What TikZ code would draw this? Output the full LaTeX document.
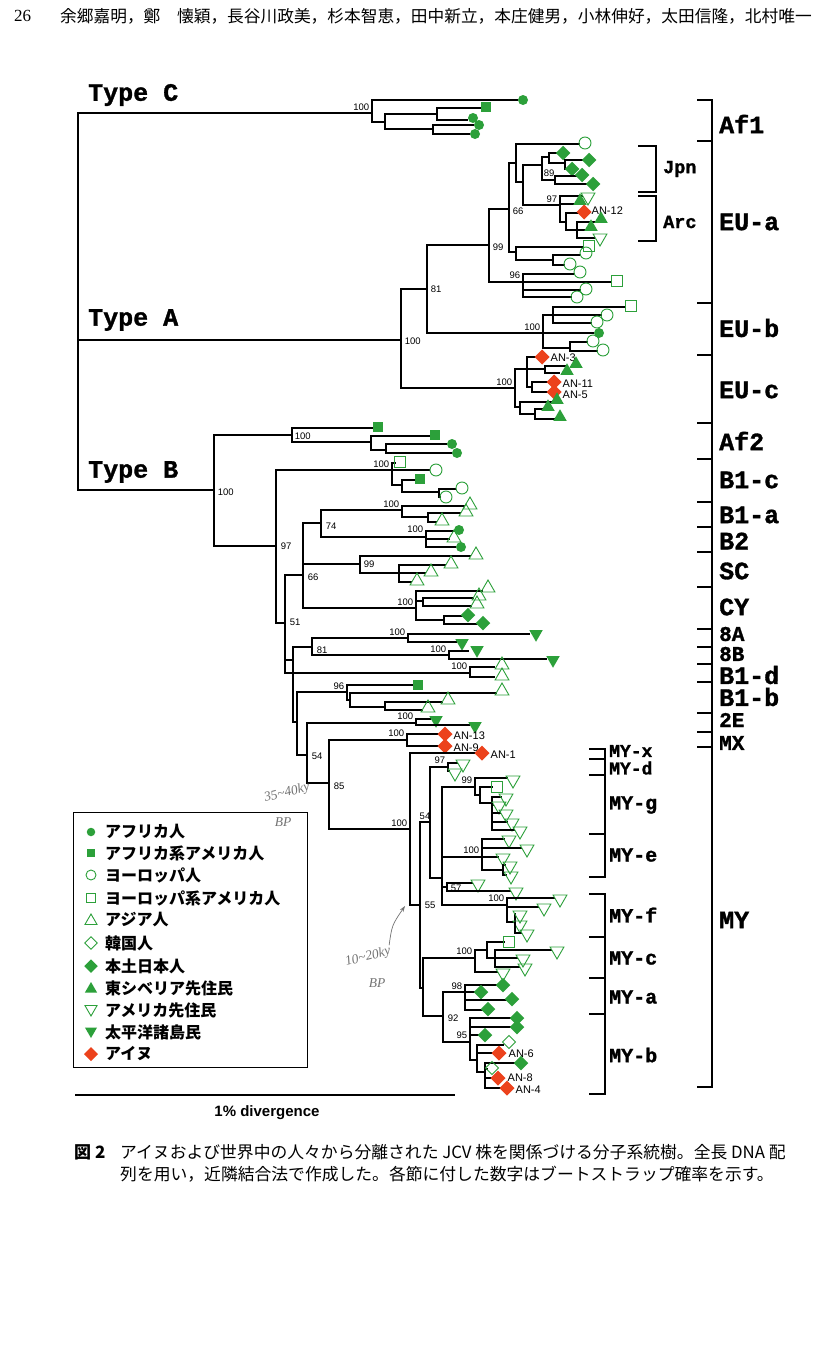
\documentclass[tikz,border=0pt]{standalone}
\usepackage{fontspec}
\setmainfont{Liberation Sans}
\newfontfamily\jpf{Noto Sans CJK JP}
\newfontfamily\courf[BoldFeatures={FakeBold=1.3}]{Liberation Mono}
\newfontfamily\serf{Liberation Serif}
\usetikzlibrary{shapes.geometric,arrows.meta}
\definecolor{grn}{RGB}{44,160,58}
\definecolor{anred}{RGB}{236,66,28}
\newcommand\nd[3]{\coordinate (#1) at (#2,#3);}
\newcommand\lnk[2]{\draw[br] (#1) |- (#2);}
\newcommand\tipm[6]{\draw[br] (#1) |- (#2,#3); \node[#4] at (#5,#6) {};}
\newcommand\bsl[4]{\node[bs,anchor=#1] at (#2,#3) {#4};}
\newcommand\anl[3]{\node[anlab] at (#1,#2) {#3};}
\tikzset{
 br/.style={line width=1.4pt},
 brk/.style={line width=1.5pt},
 mk/.style={inner sep=0pt, outer sep=0pt},
 fc/.style={mk,circle,fill=grn,minimum size=10pt},
 fs/.style={mk,rectangle,fill=grn,minimum size=9.5pt},
 oc/.style={mk,circle,draw=grn,line width=0.9pt,minimum size=12pt},
 os/.style={mk,rectangle,draw=grn,line width=0.9pt,minimum size=10.5pt},
 ot/.style={mk,regular polygon,regular polygon sides=3,draw=grn,line width=0.9pt,minimum size=16pt},
 ft/.style={mk,regular polygon,regular polygon sides=3,fill=grn,minimum size=15.5pt},
 oi/.style={ot,shape border rotate=180},
 fi/.style={ft,shape border rotate=180},
 fd/.style={mk,diamond,fill=grn,minimum size=14.5pt},
 od/.style={mk,diamond,draw=grn,line width=0.9pt,minimum size=13pt},
 rdd/.style={mk,diamond,fill=anred,minimum size=15pt},
 bs/.style={font=\fontsize{9.5}{10}\selectfont, inner sep=0.6pt},
 anlab/.style={font=\fontsize{11}{12}\selectfont, inner sep=0.5pt, anchor=west},
 big/.style={font=\courf\bfseries\fontsize{25}{25}\selectfont, anchor=west, inner sep=0pt},
 bigs/.style={font=\courf\bfseries\fontsize{21}{21}\selectfont, anchor=west, inner sep=0pt},
 mid/.style={font=\courf\bfseries\fontsize{20}{20}\selectfont, anchor=west, inner sep=0pt},
 mids/.style={font=\courf\bfseries\fontsize{18}{18}\selectfont, anchor=west, inner sep=0pt},
 sml/.style={font=\courf\bfseries\fontsize{18.5}{18.5}\selectfont, anchor=west, inner sep=0pt},
 lg/.style={font=\jpf\bfseries\fontsize{16}{17}\selectfont, anchor=west, inner sep=0pt},
 hw/.style={text=black!55, font=\serf\itshape\fontsize{13.5}{13.5}\selectfont, inner sep=0pt},
}
\begin{document}
\begin{tikzpicture}[x=1pt,y=-1pt]
\fill[white] (0,0) rectangle (826,1346);
\useasboundingbox (0,0) rectangle (826,1346);
% header
\node[anchor=west, font=\serf\fontsize{17}{17}\selectfont, inner sep=0pt] (pg) at (14,16) {26};
\node[anchor=west, font=\jpf\fontsize{16.7}{17}\selectfont, inner sep=0pt] (auth) at (60,16) {余郷嘉明，鄭　懐穎，長谷川政美，杉本智恵，田中新立，本庄健男，小林伸好，太田信隆，北村唯一};
% type labels
\node[big] (tc) at (88,95) {Type C};
\node[big] (ta) at (88,320) {Type A};
\node[big] (tb) at (88,472) {Type B};
% root
\nd{R}{78}{340}
% ---------- Type C
\nd{c0}{372}{113}\nd{c1}{385}{122}\nd{c2}{437}{114}\nd{c3}{433}{129}
\lnk{R}{c0}
\tipm{c0}{518}{100}{fc}{523}{100}
\lnk{c0}{c1}\lnk{c1}{c2}\lnk{c1}{c3}
\tipm{c2}{481}{108}{fs}{486}{107}
\tipm{c2}{468}{120}{fc}{473}{118}
\tipm{c3}{474}{125}{fc}{479}{125}
\tipm{c3}{470}{134}{fc}{475}{134}
\bsl{south east}{370}{111}{100}
% ---------- Type A
\nd{A}{401}{340}\lnk{R}{A}\bsl{west}{404}{341}{100}
\nd{a81}{427}{289}\lnk{A}{a81}\bsl{west}{430}{289}{81}
\nd{a99}{489}{245}\lnk{a81}{a99}\bsl{west}{492}{247}{99}
\nd{a66}{509}{209}\lnk{a99}{a66}\bsl{west}{512}{211}{66}
\nd{a66a}{516}{163}\lnk{a66}{a66a}
\tipm{a66a}{580}{144}{oc}{585}{143}
\nd{jp}{523}{182}\lnk{a66a}{jp}
\nd{n89}{542}{165}\lnk{jp}{n89}\bsl{west}{543}{173}{89}
\nd{j1}{549}{157}\lnk{n89}{j1}
\tipm{j1}{558}{153}{fd}{563}{153}
\nd{j1b}{565}{163}\lnk{j1}{j1b}
\tipm{j1b}{584}{160}{fd}{589}{160}
\tipm{j1b}{567}{169}{fd}{572}{169}
\nd{j2}{555}{180}\lnk{n89}{j2}
\tipm{j2}{577}{176}{fd}{582}{175}
\tipm{j2}{588}{184}{fd}{593}{184}
\nd{n97a}{560}{205}\lnk{jp}{n97a}\bsl{south east}{558}{203}{97}
\tipm{n97a}{583}{196}{oi}{588}{197}
\tipm{n97a}{575}{204}{ft}{580}{201}
\nd{ar1}{566}{222}\lnk{n97a}{ar1}
\tipm{ar1}{579}{213}{rdd}{584}{212}\anl{591}{211}{AN-12}
\nd{ar2}{577}{230}\lnk{ar1}{ar2}
\tipm{ar2}{596}{222}{ft}{601}{219}
\tipm{ar2}{586}{230}{ft}{591}{227}
\tipm{ar2}{595}{238}{oi}{600}{238}
\nd{a66b}{516}{252}\lnk{a66}{a66b}
\tipm{a66b}{584}{247}{os}{589}{246}
\nd{a66c}{553}{260}\lnk{a66b}{a66c}
\tipm{a66c}{581}{255}{oc}{586}{253}
\tipm{a66c}{565}{265}{oc}{570}{264}
\nd{a96}{523}{282}\lnk{a99}{a96}\bsl{east}{521}{275}{96}
\tipm{a96}{575}{274}{oc}{580}{272}
\tipm{a96}{612}{282}{os}{617}{281}
\tipm{a96}{581}{290}{oc}{586}{289}
\tipm{a96}{572}{297}{oc}{577}{297}
\nd{eb}{543}{333}\lnk{a81}{eb}\bsl{south east}{541}{331}{100}
\nd{eb1}{553}{315}\lnk{eb}{eb1}
\tipm{eb1}{626}{307}{os}{631}{306}
\tipm{eb1}{602}{315}{oc}{607}{315}
\tipm{eb1}{592}{323}{oc}{597}{322}
\tipm{eb}{594}{333}{fc}{599}{333}
\nd{eb2}{570}{348}\lnk{eb}{eb2}
\tipm{eb2}{588}{342}{oc}{593}{341}
\tipm{eb2}{598}{351}{oc}{603}{350}
\nd{ec}{515}{388}\lnk{A}{ec}\bsl{south east}{513}{386}{100}
\nd{eca}{527}{369}\lnk{ec}{eca}
\tipm{eca}{537}{357}{rdd}{542}{357}\anl{550}{358}{AN-3}
\nd{eca2}{545}{369}\lnk{eca}{eca2}
\tipm{eca2}{566}{366}{ft}{576}{364}
\tipm{eca2}{560}{373}{ft}{567}{371}
\nd{eca3}{532}{387}\lnk{eca}{eca3}
\tipm{eca3}{549}{382}{rdd}{554}{382}\anl{562}{384}{AN-11}
\tipm{eca3}{549}{392}{rdd}{554}{392}\anl{562}{395}{AN-5}
\nd{ecb}{520}{407}\lnk{ec}{ecb}
\tipm{ecb}{552}{402}{ft}{557}{400}
\nd{ecb2}{535}{414}\lnk{ecb}{ecb2}
\tipm{ecb2}{543}{409}{ft}{548}{407}
\tipm{ecb2}{555}{419}{ft}{560}{417}
% ---------- Type B
\nd{B}{214}{490}\lnk{R}{B}\bsl{west}{217}{492}{100}
\nd{af2}{292}{435}\lnk{B}{af2}\bsl{west}{294}{436}{100}
\tipm{af2}{373}{428}{fs}{378}{427}
\nd{f1}{371}{442}\lnk{af2}{f1}
\tipm{f1}{430}{436}{fs}{435}{435}
\nd{f2}{386}{450}\lnk{f1}{f2}
\tipm{f2}{447}{444}{fc}{452}{444}
\tipm{f2}{452}{453}{fc}{457}{453}
\nd{b97}{276}{546}\lnk{B}{b97}\bsl{west}{280}{546}{97}
\nd{b1c}{392}{470}\lnk{b97}{b1c}\bsl{south east}{390}{468}{100}
\tipm{b1c}{396}{463}{os}{400}{462}
\tipm{b1c}{430}{470}{oc}{436}{470}
\nd{b1c1}{402}{485}\lnk{b1c}{b1c1}
\tipm{b1c1}{415}{480}{fs}{420}{479}
\nd{b1c2}{439}{492}\lnk{b1c1}{b1c2}
\tipm{b1c2}{456}{489}{oc}{462}{488}
\tipm{b1c2}{441}{497}{oc}{446}{497}
\nd{b51}{285}{623}\lnk{b97}{b51}\bsl{west}{289}{622}{51}
\nd{b66}{303}{575}\lnk{b51}{b66}\bsl{west}{307}{577}{66}
\nd{b74}{321}{523}\lnk{b66}{b74}\bsl{west}{325}{526}{74}
\nd{b1a}{402}{510}\lnk{b74}{b1a}\bsl{south east}{400}{508}{100}
\tipm{b1a}{465}{506}{ot}{470}{505}
\nd{b1a1}{428}{517}\lnk{b1a}{b1a1}
\tipm{b1a1}{461}{513}{ot}{466}{512}
\tipm{b1a1}{437}{522}{ot}{442}{521}
\nd{bb2}{426}{537}\lnk{b74}{bb2}\bsl{south east}{424}{533}{100}
\tipm{bb2}{455}{531}{fc}{459}{530}
\tipm{bb2}{450}{539}{ot}{454}{538}
\tipm{bb2}{456}{547}{fc}{461}{547}
\nd{sc}{360}{564}\lnk{b66}{sc}\bsl{west}{363}{564}{99}
\tipm{sc}{471}{556}{ot}{476}{555}
\nd{sc1}{399}{573}\lnk{sc}{sc1}
\tipm{sc1}{446}{565}{ot}{451}{564}
\tipm{sc1}{426}{573}{ot}{431}{572}
\tipm{sc1}{412}{582}{ot}{417}{581}
\nd{cy}{416}{608}\lnk{b66}{cy}\bsl{south east}{414}{606}{100}
\tipm{cy}{483}{591}{ot}{488}{588}
\nd{cy1}{423}{601}\lnk{cy}{cy1}
\tipm{cy1}{474}{598}{ot}{479}{596}
\tipm{cy1}{472}{606}{ot}{477}{604}
\nd{cy2}{444}{620}\lnk{cy}{cy2}
\tipm{cy2}{463}{616}{fd}{468}{615}
\tipm{cy2}{478}{624}{fd}{483}{623}
\nd{bQ}{293}{660}\lnk{b51}{bQ}
\nd{b81}{312}{647}\lnk{bQ}{b81}\bsl{west}{316}{650}{81}
\nd{b8a}{408}{638}\lnk{b81}{b8a}\bsl{south east}{406}{636}{100}
\tipm{b8a}{530}{634}{fi}{536}{634}
\tipm{b8a}{457}{642}{fi}{462}{643}
\nd{b8b}{449}{655}\lnk{b81}{b8b}\bsl{south east}{447}{653}{100}
\tipm{b8b}{469}{651}{fi}{477}{650}
\tipm{b8b}{547}{659}{fi}{553}{660}
\nd{b1d}{470}{673}\lnk{b51}{b1d}\bsl{south east}{468}{670}{100}
\tipm{b1d}{495}{667}{ot}{502}{665}
\tipm{b1d}{495}{677}{ot}{502}{676}
\nd{bR}{297}{722}\lnk{bQ}{bR}
\nd{b1b}{347}{692}\lnk{bR}{b1b}\bsl{south east}{345}{690}{96}
\tipm{b1b}{413}{685}{fs}{418}{685}
\nd{b1b1}{350}{700}\lnk{b1b}{b1b1}
\tipm{b1b1}{497}{693}{ot}{502}{691}
\nd{b1b2}{385}{707}\lnk{b1b1}{b1b2}
\tipm{b1b2}{443}{702}{ot}{448}{700}
\tipm{b1b2}{423}{710}{ot}{428}{708}
\nd{b54}{307}{755}\lnk{bR}{b54}\bsl{west}{311}{756}{54}
\nd{b2e}{416}{723}\lnk{b54}{b2e}\bsl{south east}{414}{720}{100}
\tipm{b2e}{431}{719}{fi}{436}{720}
\tipm{b2e}{470}{725}{fi}{475}{726}
\nd{b85}{329}{783}\lnk{b54}{b85}\bsl{west}{333}{786}{85}
\nd{ban}{407}{740}\lnk{b85}{ban}\bsl{south east}{405}{737}{100}
\tipm{ban}{440}{734}{rdd}{445}{734}\anl{453}{736}{AN-13}
\tipm{ban}{440}{746}{rdd}{445}{746}\anl{453}{748}{AN-9}
\nd{my}{410}{829}\lnk{b85}{my}\bsl{south east}{408}{827}{100}
\tipm{my}{477}{753}{rdd}{482}{753}\anl{490}{755}{AN-1}
\nd{m55}{420}{905}\lnk{my}{m55}\bsl{west}{424}{905}{55}
\nd{m54}{430}{822}\lnk{m55}{m54}\bsl{south}{425}{820}{54}
\nd{m97}{448}{767}\lnk{m54}{m97}\bsl{south east}{446}{764}{97}
\tipm{m97}{458}{763}{oi}{463}{764}
\tipm{m97}{450}{771}{oi}{455}{773}
\nd{mV}{442}{878}\lnk{m54}{mV}
\nd{m99}{475}{787}\lnk{mV}{m99}\bsl{south east}{473}{784}{99}
\tipm{m99}{508}{778}{oi}{513}{780}
\nd{m99a}{480}{795}\lnk{m99}{m99a}
\tipm{m99a}{493}{787}{os}{497}{787}
\nd{mg}{492}{803}\lnk{m99a}{mg}
\tipm{mg}{502}{797}{oi}{506}{798}
\tipm{mg}{494}{805}{oi}{499}{806}
\tipm{mg}{501}{813}{oi}{506}{814}
\tipm{mg}{508}{822}{oi}{512}{823}
\tipm{mg}{515}{830}{oi}{520}{831}
\nd{me}{482}{857}\lnk{mV}{me}\bsl{south east}{480}{854}{100}
\tipm{me}{505}{839}{oi}{509}{840}
\tipm{me}{522}{848}{oi}{527}{849}
\tipm{me}{499}{857}{oi}{503}{858}
\nd{me1}{503}{870}\lnk{me}{me1}
\tipm{me1}{506}{865}{oi}{510}{866}
\tipm{me1}{507}{875}{oi}{511}{876}
\nd{m57}{447}{887}\lnk{mV}{m57}\bsl{west}{450}{888}{57}
\tipm{m57}{473}{883}{oi}{478}{884}
\tipm{m57}{511}{891}{oi}{516}{892}
\nd{mf}{507}{905}\lnk{mV}{mf}\bsl{south east}{505}{902}{100}
\tipm{mf}{555}{898}{oi}{560}{899}
\tipm{mf}{539}{907}{oi}{544}{908}
\nd{mf1}{515}{922}\lnk{mf}{mf1}
\tipm{mf1}{516}{914}{oi}{520}{915}
\tipm{mf1}{516}{924}{oi}{520}{925}
\tipm{mf1}{522}{933}{oi}{527}{934}
\nd{mL}{423}{988}\lnk{m55}{mL}
\nd{mc}{475}{958}\lnk{mL}{mc}\bsl{south east}{473}{955}{100}
\nd{mc1}{487}{950}\lnk{mc}{mc1}
\tipm{mc1}{505}{942}{os}{509}{942}
\nd{mc2}{495}{958}\lnk{mc1}{mc2}
\tipm{mc2}{552}{950}{oi}{557}{951}
\tipm{mc2}{518}{958}{oi}{523}{959}
\tipm{mc2}{520}{967}{oi}{525}{968}
\tipm{mc}{498}{972}{oi}{503}{973}
\nd{m92}{443}{1016}\lnk{mL}{m92}\bsl{west}{447}{1018}{92}
\nd{ma}{465}{992}\lnk{m92}{ma}\bsl{south east}{463}{990}{98}
\tipm{ma}{499}{985}{fd}{503}{985}
\tipm{ma}{476}{992}{fd}{481}{992}
\tipm{ma}{507}{1000}{fd}{512}{999}
\tipm{ma}{484}{1010}{fd}{488}{1009}
\nd{mb}{470}{1042}\lnk{m92}{mb}\bsl{south east}{468}{1039}{95}
\tipm{mb}{512}{1018}{fd}{517}{1018}
\tipm{mb}{512}{1027}{fd}{517}{1027}
\tipm{mb}{480}{1035}{fd}{485}{1035}
\nd{mb1}{477}{1060}\lnk{mb}{mb1}
\tipm{mb1}{504}{1045}{od}{509}{1042}
\tipm{mb1}{494}{1053}{rdd}{499}{1053}\anl{508}{1054}{AN-6}
\nd{mb2}{485}{1072}\lnk{mb1}{mb2}
\tipm{mb2}{516}{1063}{fd}{521}{1063}
\tipm{mb2}{488}{1069}{od}{492}{1068}
\tipm{mb2}{493}{1078}{rdd}{498}{1078}\anl{507}{1078}{AN-8}
\tipm{mb2}{502}{1088}{rdd}{507}{1088}\anl{515}{1090}{AN-4}
% ---------- right brackets
\draw[brk] (697,100) -- (712,100) -- (712,1087) -- (697,1087);
\foreach \yy in {141,303,355,423,459,502,527,552,587,629,647,664,682,713,732,747}
  \draw[brk] (697,\yy) -- (712,\yy);
\node[big] (lAf1) at (719,124) {Af1};
\node[big] (lEUa) at (719,222) {EU-a};
\node[big] (lEUb) at (719,328) {EU-b};
\node[big] (lEUc) at (719,390) {EU-c};
\node[big] (lAf2) at (719,441) {Af2};
\node[big] (lB1c) at (719,480) {B1-c};
\node[big] (lB1a) at (719,515) {B1-a};
\node[big] (lB2) at (719,541) {B2};
\node[big] (lSC) at (719,571) {SC};
\node[big] (lCY) at (719,607) {CY};
\node[bigs] (l8A) at (719,634) {8A};
\node[bigs] (l8B) at (719,654) {8B};
\node[big] (lB1d) at (719,675) {B1-d};
\node[big] (lB1b) at (719,697) {B1-b};
\node[bigs] (l2E) at (719,720) {2E};
\node[bigs] (lMX) at (719,743) {MX};
\node[big] (lMY) at (719,920) {MY};
% Jpn / Arc
\draw[brk] (638,146) -- (656,146) -- (656,192) -- (638,192);
\draw[brk] (638,196) -- (656,196) -- (656,241) -- (638,241);
\node[sml] (lJpn) at (663,169) {Jpn};
\node[sml] (lArc) at (663,222) {Arc};
% MY sub brackets
\draw[brk] (589,749) -- (605,749) -- (605,877) -- (589,877);
\foreach \yy in {759,775,834} \draw[brk] (589,\yy) -- (605,\yy);
\draw[brk] (589,894) -- (605,894) -- (605,1094) -- (589,1094);
\foreach \yy in {937,978,1014} \draw[brk] (589,\yy) -- (605,\yy);
\node[mids] (lx) at (609,751) {MY-x};
\node[mids] (ld) at (609,768) {MY-d};
\node[mid] (lg) at (609,805) {MY-g};
\node[mid] (le) at (609,855) {MY-e};
\node[mid] (lf) at (609,915) {MY-f};
\node[mid] (lc) at (609,958) {MY-c};
\node[mid] (la) at (609,997) {MY-a};
\node[mid] (lb) at (609,1055) {MY-b};
% ---------- legend
\draw[line width=1pt] (73,812) rectangle (307,1067);
\node[fc,minimum size=8.5pt] at (91,832) {};     \node[lg] at (105,832) {アフリカ人};
\node[fs,minimum size=8.5pt] at (91,853) {};     \node[lg] at (105,853) {アフリカ系アメリカ人};
\node[oc,minimum size=10pt] at (91,875) {};      \node[lg] at (105,875) {ヨーロッパ人};
\node[os,minimum size=9pt] at (91,898) {};       \node[lg] at (105,898) {ヨーロッパ系アメリカ人};
\node[ot,minimum size=14pt] at (91,921) {};      \node[lg] at (105,920) {アジア人};
\node[od,minimum size=12.5pt] at (91,943) {};    \node[lg] at (105,943) {韓国人};
\node[fd,minimum size=13.5pt] at (91,966) {};    \node[lg] at (105,966) {本土日本人};
\node[ft,minimum size=14pt] at (91,989) {};      \node[lg] at (105,988) {東シベリア先住民};
\node[oi,minimum size=14pt] at (91,1009) {};     \node[lg] at (105,1010) {アメリカ先住民};
\node[fi,minimum size=14pt] at (91,1031) {};     \node[lg] at (105,1032) {太平洋諸島民};
\node[rdd,minimum size=14pt] at (91,1054) {};    \node[lg] at (105,1054) {アイヌ};
% ---------- handwritten notes
\node[hw,rotate=14] (hw1) at (287,793) {35\textasciitilde 40ky};
\node[hw] (hw1b) at (283,822) {BP};
\node[hw,rotate=14] (hw2) at (368,957) {10\textasciitilde 20ky};
\node[hw] (hw2b) at (377,983) {BP};
\coordinate (hwt) at (405,906);
\draw[black!55, line width=0.7pt, -{Stealth[length=6pt,width=4pt]}] (hw2.north east) .. controls (392,925) .. (hwt);
% ---------- scale bar
\coordinate (sb1) at (75,1095); \coordinate (sb2) at (455,1095);
\draw[line width=2pt] (sb1) -- (sb2);
\node[font=\bfseries\fontsize{15}{15}\selectfont, inner sep=0pt] (sbl) at (267,1113) {1\% divergence};
% ---------- caption
\node[anchor=west, font=\jpf\bfseries\fontsize{17}{17}\selectfont, inner sep=0pt] (fig) at (74,1152) {図 2};
\node[anchor=west, font=\jpf\fontsize{16.8}{17}\selectfont, inner sep=0pt] (cap1) at (120,1152) {アイヌおよび世界中の人々から分離された JCV 株を関係づける分子系統樹。全長 DNA 配};
\node[anchor=west, font=\jpf\fontsize{16.8}{17}\selectfont, inner sep=0pt] (cap2) at (120,1174) {列を用い，近隣結合法で作成した。各節に付した数字はブートストラップ確率を示す。};
\end{tikzpicture}
\end{document}
